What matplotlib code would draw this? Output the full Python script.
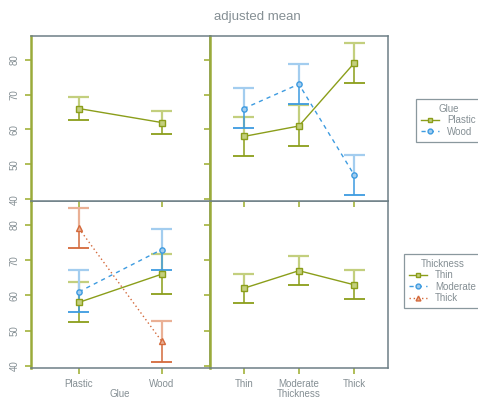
import numpy as np
import matplotlib
matplotlib.use('Agg')
from matplotlib import pyplot as plt
from matplotlib.lines import Line2D

plt.rcParams['font.family'] = ['Liberation Sans', 'DejaVu Sans']

glue = ['Plastic', 'Wood']
thickness = ['Thin', 'Moderate', 'Thick']

# main effects (mean, lower, upper)
glue_mean = [66, 62]
glue_lo = [62.6, 58.7]
glue_hi = [69.3, 65.3]

thick_mean = [62, 67, 63]
thick_lo = [57.9, 62.9, 59.0]
thick_hi = [66.1, 71.1, 67.1]

# interaction: rows = glue, cols = thickness
inter_mean = np.array([[58, 61, 79],
                       [66, 73, 47]])
inter_lo = np.array([[52.3, 55.3, 73.4],
                     [60.3, 67.2, 41.2]])
inter_hi = np.array([[63.7, 67.1, 84.8],
                     [71.8, 78.8, 52.7]])

green = '#8b9e1a'
green_l = '#c3cf7e'
blue = '#3d9be0'
blue_l = '#a3cdef'
red = '#d46a3c'
red_l = '#eab095'
grey_txt = '#858f94'
spine_c = '#6d7f86'

styles = [(green, green_l, '-', 's'), (blue, blue_l, (0, (3, 3)), 'o'), (red, red_l, (0, (1, 2)), '^')]

W, H = 478, 399
fig = plt.figure(figsize=(W / 100, H / 100), dpi=100)

x0, x1, x2 = 31 / W, 209.5 / W, 388.3 / W
y0, y1, y2 = 1 - 367.5 / H, 1 - 201 / H, 1 - 36 / H

ax_bl = fig.add_axes([x0, y0, x1 - x0, y1 - y0])
ax_tl = fig.add_axes([x0, y1, x1 - x0, y2 - y1])
ax_br = fig.add_axes([x1, y0, x2 - x1, y1 - y0])
ax_tr = fig.add_axes([x1, y1, x2 - x1, y2 - y1])


def draw_series(ax, xs, mean, lo, hi, style, capw):
    c, cl, ls, mk = style
    xs = np.asarray(xs)
    ax.plot(xs, mean, color=c, linestyle=ls, linewidth=1, zorder=3)
    ax.vlines(xs, mean, hi, color=cl, linewidth=1.6, zorder=2)
    ax.vlines(xs, lo, mean, color=c, linewidth=1.3, alpha=0.85, zorder=2)
    ax.hlines(hi, xs - capw, xs + capw, color=cl, linewidth=1.6, zorder=2)
    ax.hlines(lo, xs - capw, xs + capw, color=c, linewidth=1.3, zorder=2)
    ax.plot(xs, mean, linestyle='none', marker=mk, markersize=3.8,
            markerfacecolor=cl, markeredgecolor=c, markeredgewidth=1, zorder=4)


def style_axis(ax, n, xlabels=None):
    if n == 2:
        ax.set_xlim(0.42, 2.58)
    else:
        ax.set_xlim(0.38, 3.62)
    ax.set_ylim(39.5, 86.8)
    ax.set_yticks([40, 50, 60, 70, 80])
    ax.set_xticks(range(1, n + 1))
    ax.tick_params(direction='out', length=4.3, width=1.2, color='#a3b33c',
                   labelcolor=grey_txt, labelsize=7, pad=4)
    for s in ['top', 'right', 'bottom']:
        ax.spines[s].set_color(spine_c)
        ax.spines[s].set_linewidth(1.1)
    ax.spines['left'].set_color('#9aab3a')
    ax.spines['left'].set_linewidth(1.8)
    if xlabels is None:
        ax.set_xticklabels([])
    else:
        ax.set_xticklabels(xlabels)


for ax in [ax_bl, ax_tl]:
    style_axis(ax, 2, glue if ax is ax_bl else None)
    for t in ax.get_yticklabels():
        t.set_rotation(90)
        t.set_va('center')
for ax in [ax_br, ax_tr]:
    style_axis(ax, 3, thickness if ax is ax_br else None)
    ax.set_yticklabels([])

# top-left: glue main effect
draw_series(ax_tl, [1, 2], glue_mean, glue_lo, glue_hi, styles[0], 0.127)

# top-right: glue lines across thickness
for g in range(2):
    draw_series(ax_tr, [1, 2, 3], inter_mean[g], inter_lo[g], inter_hi[g], styles[g], 0.19)

# bottom-left: thickness lines across glue
for t in range(3):
    draw_series(ax_bl, [1, 2], inter_mean[:, t], inter_lo[:, t], inter_hi[:, t], styles[t], 0.127)

# bottom-right: thickness main effect
draw_series(ax_br, [1, 2, 3], thick_mean, thick_lo, thick_hi, styles[0], 0.19)

ax_bl.set_xlabel('Glue', color=grey_txt, fontsize=7, labelpad=0)
ax_br.set_xlabel('Thickness', color=grey_txt, fontsize=7, labelpad=0)

fig.text(257 / W, 1 - 17 / H, 'adjusted mean', ha='center', va='center',
         color=grey_txt, fontsize=9.5)


def handles(n):
    return [Line2D([0], [0], color=styles[i][0], linestyle=styles[i][2], linewidth=1,
                   marker=styles[i][3], markersize=3.5, markerfacecolor=styles[i][1],
                   markeredgecolor=styles[i][0]) for i in range(n)]


for hs, labs, title, pos in [(handles(2), glue, 'Glue', (416 / W, 1 - 99 / H)),
                             (handles(3), thickness, 'Thickness', (404 / W, 1 - 254 / H))]:
    leg = fig.legend(hs, labs, title=title, loc='upper left', bbox_to_anchor=pos,
                     fontsize=7, title_fontsize=7, frameon=True, fancybox=False,
                     handlelength=1.9, handletextpad=0.8, borderpad=0.5,
                     labelspacing=0.15, borderaxespad=0)
    leg.get_frame().set_edgecolor(spine_c)
    leg.get_frame().set_linewidth(0.9)
    leg.get_title().set_color(grey_txt)
    for txt in leg.get_texts():
        txt.set_color(grey_txt)

fig.savefig('out.png', dpi=100)
